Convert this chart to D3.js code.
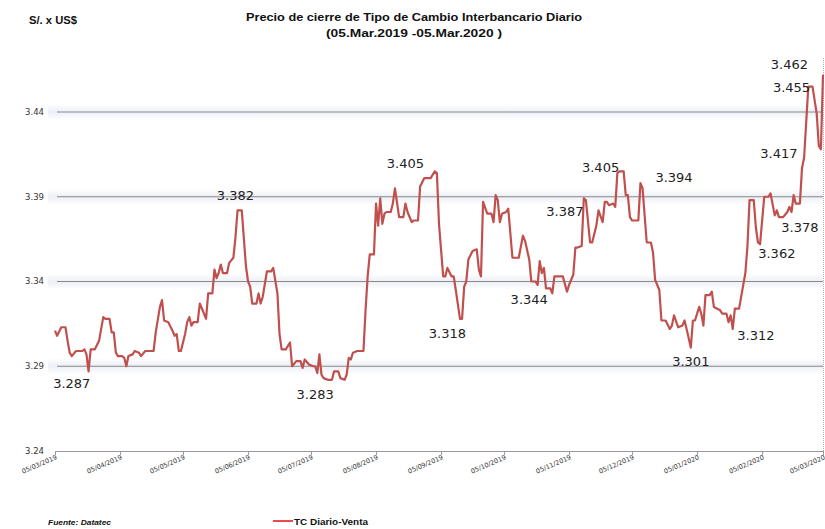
<!DOCTYPE html>
<html>
<head>
<meta charset="utf-8">
<script src="https://cdn.jsdelivr.net/npm/d3@7"></script>
<style>
  body { margin: 0; background: #fff; }
  svg { display: block; }
</style>
</head>
<body>
<svg id="chart" width="825" height="529"></svg>
<script>
// daily closing rate
var dates = [
  "2019-03-05","2019-03-06","2019-03-08","2019-03-10","2019-03-11","2019-03-12","2019-03-13","2019-03-15","2019-03-18","2019-03-19",
  "2019-03-20","2019-03-21","2019-03-22","2019-03-24","2019-03-26","2019-03-28","2019-03-29","2019-03-31","2019-04-01","2019-04-02",
  "2019-04-03","2019-04-04","2019-04-06","2019-04-07","2019-04-08","2019-04-09","2019-04-11","2019-04-12","2019-04-14","2019-04-15",
  "2019-04-17","2019-04-21","2019-04-22","2019-04-24","2019-04-25","2019-04-26","2019-04-28","2019-04-30","2019-05-01","2019-05-02",
  "2019-05-03","2019-05-04","2019-05-06","2019-05-07","2019-05-08","2019-05-09","2019-05-10","2019-05-12","2019-05-13","2019-05-15",
  "2019-05-16","2019-05-17","2019-05-19","2019-05-20","2019-05-21","2019-05-22","2019-05-23","2019-05-24","2019-05-26","2019-05-27",
  "2019-05-29","2019-05-30","2019-05-31","2019-06-02","2019-06-04","2019-06-05","2019-06-06","2019-06-07","2019-06-09","2019-06-10",
  "2019-06-11","2019-06-12","2019-06-14","2019-06-16","2019-06-17","2019-06-19","2019-06-20","2019-06-21","2019-06-23","2019-06-25",
  "2019-06-26","2019-06-28","2019-06-30","2019-07-01","2019-07-02","2019-07-04","2019-07-06","2019-07-07","2019-07-08","2019-07-09",
  "2019-07-10","2019-07-11","2019-07-13","2019-07-15","2019-07-16","2019-07-18","2019-07-19","2019-07-21","2019-07-22","2019-07-23",
  "2019-07-24","2019-07-25","2019-07-27","2019-07-30","2019-07-31","2019-08-01","2019-08-02","2019-08-04","2019-08-05","2019-08-06",
  "2019-08-07","2019-08-08","2019-08-09","2019-08-10","2019-08-12","2019-08-13","2019-08-14","2019-08-16","2019-08-18","2019-08-19",
  "2019-08-20","2019-08-22","2019-08-23","2019-08-25","2019-08-26","2019-08-28","2019-08-31","2019-09-02","2019-09-03","2019-09-04",
  "2019-09-06","2019-09-07","2019-09-08","2019-09-10","2019-09-11","2019-09-12","2019-09-14","2019-09-15","2019-09-16","2019-09-17",
  "2019-09-18","2019-09-20","2019-09-22","2019-09-23","2019-09-24","2019-09-25","2019-09-27","2019-09-29","2019-09-30","2019-10-01",
  "2019-10-02","2019-10-03","2019-10-04","2019-10-06","2019-10-07","2019-10-09","2019-10-12","2019-10-14","2019-10-15","2019-10-17",
  "2019-10-18","2019-10-20","2019-10-21","2019-10-22","2019-10-23","2019-10-24","2019-10-25","2019-10-27","2019-10-28","2019-10-29",
  "2019-11-02","2019-11-04","2019-11-05","2019-11-07","2019-11-08","2019-11-09","2019-11-11","2019-11-12","2019-11-13","2019-11-15",
  "2019-11-16","2019-11-18","2019-11-19","2019-11-21","2019-11-22","2019-11-23","2019-11-24","2019-11-26","2019-11-27","2019-11-28",
  "2019-11-29","2019-12-01","2019-12-02","2019-12-03","2019-12-04","2019-12-05","2019-12-08","2019-12-09","2019-12-10","2019-12-12",
  "2019-12-14","2019-12-15","2019-12-16","2019-12-18","2019-12-19","2019-12-21","2019-12-23","2019-12-24","2019-12-25","2019-12-27",
  "2019-12-29","2019-12-30","2019-12-31","2020-01-02","2020-01-03","2020-01-04","2020-01-06","2020-01-07","2020-01-08","2020-01-09",
  "2020-01-11","2020-01-12","2020-01-13","2020-01-16","2020-01-17","2020-01-19","2020-01-20","2020-01-21","2020-01-22","2020-01-23",
  "2020-01-25","2020-01-28","2020-01-29","2020-01-30","2020-02-01","2020-02-02","2020-02-03","2020-02-04","2020-02-06","2020-02-08",
  "2020-02-09","2020-02-11","2020-02-12","2020-02-13","2020-02-15","2020-02-17","2020-02-18","2020-02-19","2020-02-20","2020-02-21",
  "2020-02-23","2020-02-24","2020-02-25","2020-02-27","2020-02-29","2020-03-02","2020-03-03","2020-03-04","2020-03-05"
];
var values = [
  3.311,3.308,3.313,3.313,3.305,3.298,3.296,3.299,3.299,3.300,
  3.297,3.287,3.300,3.300,3.305,3.319,3.318,3.318,3.310,3.310,
  3.298,3.296,3.296,3.295,3.290,3.296,3.297,3.299,3.298,3.296,
  3.299,3.299,3.310,3.325,3.329,3.317,3.316,3.311,3.308,3.309,
  3.299,3.299,3.309,3.316,3.319,3.314,3.316,3.316,3.327,3.321,
  3.318,3.333,3.333,3.347,3.342,3.345,3.350,3.345,3.345,3.351,
  3.354,3.366,3.382,3.382,3.349,3.340,3.337,3.327,3.327,3.333,
  3.327,3.331,3.346,3.346,3.348,3.333,3.309,3.300,3.300,3.304,
  3.290,3.293,3.293,3.289,3.294,3.291,3.290,3.290,3.286,3.297,
  3.285,3.283,3.282,3.282,3.287,3.287,3.283,3.282,3.285,3.295,
  3.294,3.298,3.299,3.299,3.323,3.343,3.356,3.356,3.386,3.373,
  3.389,3.374,3.380,3.381,3.381,3.386,3.395,3.378,3.378,3.386,
  3.381,3.375,3.376,3.376,3.396,3.401,3.401,3.405,3.404,3.374,
  3.343,3.343,3.348,3.343,3.343,3.335,3.318,3.318,3.337,3.340,
  3.353,3.358,3.359,3.347,3.343,3.387,3.380,3.380,3.375,3.391,
  3.388,3.375,3.380,3.381,3.383,3.354,3.354,3.367,3.364,3.353,
  3.340,3.340,3.338,3.352,3.345,3.348,3.336,3.336,3.333,3.343,
  3.343,3.334,3.338,3.344,3.360,3.360,3.361,3.389,3.388,3.363,
  3.363,3.373,3.382,3.375,3.387,3.387,3.385,3.386,3.384,3.404,
  3.405,3.405,3.391,3.391,3.378,3.376,3.376,3.398,3.395,3.363,
  3.363,3.357,3.341,3.335,3.317,3.317,3.312,3.314,3.320,3.313,
  3.314,3.317,3.312,3.301,3.317,3.317,3.325,3.321,3.314,3.332,
  3.332,3.334,3.325,3.323,3.321,3.321,3.316,3.320,3.312,3.324,
  3.324,3.345,3.361,3.388,3.388,3.372,3.363,3.362,3.390,3.390,
  3.392,3.379,3.382,3.378,3.378,3.381,3.384,3.381,3.391,3.386,
  3.386,3.407,3.413,3.455,3.455,3.439,3.420,3.418,3.462
];

var yTicks = [3.24, 3.29, 3.34, 3.39, 3.44];
var xTicks = ["2019-03-05","2019-04-05","2019-05-05","2019-06-05","2019-07-05","2019-08-05","2019-09-05",
              "2019-10-05","2019-11-05","2019-12-05","2020-01-05","2020-02-05","2020-03-05"];

// data labels (value and the date they sit over)
var annotValues = [3.287, 3.382, 3.283, 3.405, 3.318, 3.344, 3.387, 3.405, 3.394, 3.301, 3.312, 3.417, 3.362, 3.378, 3.462, 3.455];
var annotDates  = ["2019-03-13","2019-05-30","2019-07-07","2019-08-19","2019-09-08","2019-10-17","2019-11-03","2019-11-20",
                   "2019-12-25","2020-01-02","2020-02-02","2020-02-13","2020-02-12","2020-02-23","2020-02-18","2020-02-19"];
// vertical nudge of each label from its value, px
var annotDy = [12, -15, 16, -8, 15, 25, 10, -4, -13, 14, 6, 2, 9, 10, -10, 1];

var parse = d3.utcParse("%Y-%m-%d");
var fmt = d3.utcFormat("%d/%m/%Y");

var svg = d3.select("#chart");

var x = d3.scaleUtc()
    .domain([parse("2019-03-05"), parse("2020-03-05")])
    .range([55, 823]);
var y = d3.scaleLinear()
    .domain([3.24, 3.44])
    .range([451, 112]);

var defs = svg.append("defs");
var grad = defs.append("linearGradient")
    .attr("id", "band").attr("x1", 0).attr("x2", 0).attr("y1", 0).attr("y2", 1);
grad.append("stop").attr("offset", "0%").attr("stop-color", "#e4e8f1").attr("stop-opacity", 0);
grad.append("stop").attr("offset", "50%").attr("stop-color", "#e4e8f1").attr("stop-opacity", 0.7);
grad.append("stop").attr("offset", "100%").attr("stop-color", "#e4e8f1").attr("stop-opacity", 0);

// grid bands + lines
var grid = svg.append("g");
yTicks.slice(1).forEach(function (t) {
    grid.append("rect")
        .attr("x", 48).attr("width", 775)
        .attr("y", y(t) - 8).attr("height", 16)
        .attr("fill", "url(#band)");
    grid.append("line")
        .attr("x1", 57).attr("x2", 823)
        .attr("y1", y(t)).attr("y2", y(t))
        .attr("stroke", "#8a8a8a").attr("stroke-width", 1);
});

// right dotted edge
svg.append("line")
    .attr("x1", 823.5).attr("x2", 823.5)
    .attr("y1", 58).attr("y2", y(3.24))
    .attr("stroke", "#b0b0b0").attr("stroke-dasharray", "1,1");

// y labels
svg.append("g").selectAll("text")
    .data(yTicks).enter().append("text")
    .attr("x", 44).attr("y", function (d) { return y(d); })
    .attr("dy", "0.35em")
    .attr("text-anchor", "end")
    .attr("font-family", "DejaVu Sans, Verdana, sans-serif")
    .attr("font-size", 8.5)
    .attr("fill", "#333")
    .text(function (d) { return d.toFixed(2); });

// x axis
var xAxis = d3.axisBottom(x)
    .tickValues(xTicks.map(parse))
    .tickSize(4)
    .tickFormat(fmt);
var gx = svg.append("g")
    .attr("transform", "translate(0," + y(3.24) + ")")
    .call(xAxis);
gx.select(".domain").attr("stroke", "#999").attr("d", "M55.5,0.5H823.5");
gx.selectAll(".tick line").attr("stroke", "#999");
gx.selectAll(".tick text")
    .attr("font-family", "DejaVu Sans, Verdana, sans-serif")
    .attr("font-size", 6.5)
    .attr("fill", "#333")
    .attr("text-anchor", "end")
    .attr("dy", 0)
    .attr("y", 0)
    .attr("transform", "translate(2,8) rotate(-23)");

// series line
var line = d3.line()
    .x(function (d, i) { return x(parse(dates[i])); })
    .y(function (d) { return y(d); });
svg.append("path")
    .datum(values)
    .attr("d", line)
    .attr("fill", "none")
    .attr("stroke", "#c0504d")
    .attr("stroke-width", 2.2)
    .attr("stroke-linejoin", "round");

// data labels
svg.append("g").selectAll("text")
    .data(annotValues).enter().append("text")
    .attr("x", function (d, i) { return x(parse(annotDates[i])); })
    .attr("y", function (d, i) { return y(d) + annotDy[i]; })
    .attr("dy", "0.35em")
    .attr("text-anchor", "middle")
    .attr("font-family", "DejaVu Sans, Verdana, sans-serif")
    .attr("font-size", 13)
    .attr("fill", "#222")
    .text(function (d) { return d.toFixed(3); });

// titles
svg.append("text")
    .attr("x", 414).attr("y", 21)
    .attr("text-anchor", "middle")
    .attr("font-family", "Liberation Sans, Arial, sans-serif")
    .attr("font-weight", "bold").attr("font-size", 11.5)
    .attr("textLength", 336).attr("lengthAdjust", "spacingAndGlyphs")
    .attr("fill", "#111")
    .text("Precio de cierre de  Tipo de Cambio Interbancario  Diario");
svg.append("text")
    .attr("x", 414).attr("y", 37)
    .attr("text-anchor", "middle")
    .attr("font-family", "Liberation Sans, Arial, sans-serif")
    .attr("font-weight", "bold").attr("font-size", 11.5)
    .attr("textLength", 176).attr("lengthAdjust", "spacingAndGlyphs")
    .attr("fill", "#111")
    .text("(05.Mar.2019 -05.Mar.2020 )");
svg.append("text")
    .attr("x", 29).attr("y", 24)
    .attr("font-family", "Liberation Sans, Arial, sans-serif")
    .attr("font-weight", "bold").attr("font-size", 10)
    .attr("textLength", 48).attr("lengthAdjust", "spacingAndGlyphs")
    .attr("fill", "#111")
    .text("S/. x US$");

// footer
svg.append("text")
    .attr("x", 48).attr("y", 525)
    .attr("font-family", "Liberation Sans, Arial, sans-serif")
    .attr("font-weight", "bold").attr("font-style", "italic").attr("font-size", 8)
    .attr("textLength", 63).attr("lengthAdjust", "spacingAndGlyphs")
    .attr("fill", "#111")
    .text("Fuente: Datatec");

// legend
svg.append("line")
    .attr("x1", 273).attr("x2", 293)
    .attr("y1", 521).attr("y2", 521)
    .attr("stroke", "#e01010").attr("stroke-width", 1.5);
svg.append("text")
    .attr("x", 294).attr("y", 524.5)
    .attr("font-family", "Liberation Sans, Arial, sans-serif")
    .attr("font-weight", "bold").attr("font-size", 9)
    .attr("textLength", 74).attr("lengthAdjust", "spacingAndGlyphs")
    .attr("fill", "#111")
    .text("TC Diario-Venta");
</script>
</body>
</html>
